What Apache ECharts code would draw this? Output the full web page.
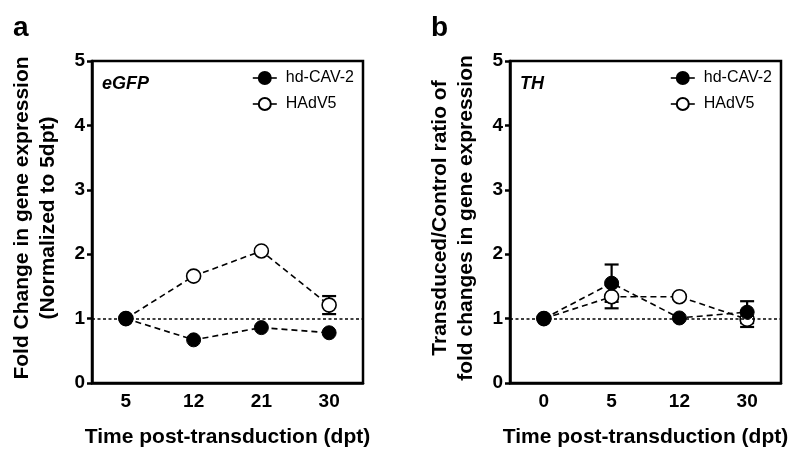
<!DOCTYPE html>
<html><head><meta charset="utf-8">
<script src="https://cdn.jsdelivr.net/npm/echarts@6/dist/echarts.min.js"></script>
<style>html,body{margin:0;padding:0;background:#fff}#c{width:800px;height:459px}</style>
</head><body><div id="c"></div>
<script>
// ---- data ----
const catsA = ['5', '12', '21', '30'];
const cavA = [1.0, 0.67, 0.86, 0.78];
const cavAErr = [0, 0, 0, 0];
const hadA = [1.0, 1.66, 2.05, 1.21];
const hadAErr = [0, 0, 0, 0.14];

const catsB = ['0', '5', '12', '30'];
const cavB = [1.0, 1.55, 1.01, 1.10];
const cavBErr = [0, 0.29, 0, 0.17];
const hadB = [1.0, 1.34, 1.34, 0.99];
const hadBErr = [0, 0.18, 0, 0.12];

const seriesNames = ['hd-CAV-2', 'HAdV5'];
const panelLetters = ['a', 'b'];
const geneLabels = ['eGFP', 'TH'];
const yNames = ['Fold Change in gene expression\n(Normalized to 5dpt)',
                'Transduced/Control ratio of\nfold changes in gene expression'];
const xName = 'Time post-transduction (dpt)';
const refValue = 1;

// ---- chart ----
const FONT = '"Liberation Sans", Arial, sans-serif';
const chart = echarts.init(document.getElementById('c'), null, {renderer: 'canvas'});

function errData(vals, errs) { return vals.map((v, i) => [i, v, errs[i]]); }
function errRender(params, api) {
  const x = api.value(0), v = api.value(1), e = api.value(2);
  if (!e) return null;
  const t = api.coord([x, v + e]);
  const b = api.coord([x, v - e]);
  const w = 7;
  const st = {stroke: '#000', lineWidth: 2.2};
  return {type: 'group', children: [
    {type: 'line', shape: {x1: t[0], y1: t[1], x2: b[0], y2: b[1]}, style: st},
    {type: 'line', shape: {x1: t[0] - w, y1: t[1], x2: t[0] + w, y2: t[1]}, style: st},
    {type: 'line', shape: {x1: b[0] - w, y1: b[1], x2: b[0] + w, y2: b[1]}, style: st}
  ]};
}

const grids = [
  {left: 92, top: 61, width: 271, height: 322},
  {left: 510, top: 61, width: 271, height: 322}
].map(g => Object.assign(g, {show: true, borderColor: '#000', borderWidth: 2.5, backgroundColor: 'transparent'}));

function xAx(i, cats) {
  return {
    type: 'category', gridIndex: i, data: cats, boundaryGap: true,
    axisLine: {show: true, lineStyle: {color: '#000', width: 2.5}},
    axisTick: {show: false},
    axisLabel: {color: '#000', fontSize: 19, fontWeight: 'bold', fontFamily: FONT, margin: 9},
    splitLine: {show: false},
    name: xName, nameLocation: 'middle', nameGap: 44,
    nameTextStyle: {color: '#000', fontSize: 21, fontWeight: 'bold', fontFamily: FONT}
  };
}
function yAx(i, gap) {
  return {
    type: 'value', gridIndex: i, min: 0, max: 5, interval: 1,
    axisLine: {show: true, lineStyle: {color: '#000', width: 2.5}},
    axisTick: {show: true, length: 5, lineStyle: {color: '#000', width: 2.5}},
    axisLabel: {color: '#000', fontSize: 19, fontWeight: 'bold', fontFamily: FONT, margin: 7},
    splitLine: {show: false},
    name: yNames[i], nameLocation: 'middle', nameGap: gap, nameRotate: 90,
    nameTextStyle: {color: '#000', fontSize: 21, fontWeight: 'bold', fontFamily: FONT, lineHeight: 26, align: 'center', padding: [0, 0, 0, 8]}
  };
}

function lineSeries(name, i, vals, filled, withRef) {
  const s = {
    name: name, type: 'line', xAxisIndex: i, yAxisIndex: i, data: vals,
    symbol: 'circle', symbolSize: 14,
    itemStyle: filled ? {color: '#000', borderColor: '#000', borderWidth: 1}
                      : {color: '#fff', borderColor: '#000', borderWidth: 1.6},
    lineStyle: {color: '#000', width: 1.6, type: [6, 4]},
    z: filled ? 4 : 3,
    emphasis: {disabled: true}
  };
  if (withRef) {
    s.markLine = {
      silent: true, symbol: 'none', label: {show: false},
      lineStyle: {color: '#000', width: 1.6, type: [3, 2.5]},
      data: [{yAxis: refValue}]
    };
  }
  return s;
}
function errSeries(i, vals, errs) {
  return {type: 'custom', xAxisIndex: i, yAxisIndex: i, data: errData(vals, errs),
          renderItem: errRender, z: 2, silent: true};
}

function legendAt(left) {
  return {
    left: left, top: 70, orient: 'vertical', padding: 0,
    itemWidth: 24, itemHeight: 15, itemGap: 10,
    data: seriesNames,
    textStyle: {color: '#000', fontSize: 16, fontFamily: FONT, padding: [0, 0, 0, 4]},
    lineStyle: {type: 'solid', width: 1.6, color: '#000'},
    selectedMode: false
  };
}

const option = {
  animation: false,
  backgroundColor: '#fff',
  title: [
    {text: panelLetters[0], left: 8, top: 9, textStyle: {fontSize: 28, fontWeight: 'bold', color: '#000', fontFamily: FONT}},
    {text: panelLetters[1], left: 426, top: 9, textStyle: {fontSize: 28, fontWeight: 'bold', color: '#000', fontFamily: FONT}},
    {text: geneLabels[0], left: 97, top: 70, textStyle: {fontSize: 18, fontWeight: 'bold', fontStyle: 'italic', color: '#000', fontFamily: FONT}},
    {text: geneLabels[1], left: 515, top: 70, textStyle: {fontSize: 18, fontWeight: 'bold', fontStyle: 'italic', color: '#000', fontFamily: FONT}}
  ],
  legend: [legendAt(252), legendAt(670)],
  grid: grids,
  xAxis: [xAx(0, catsA), xAx(1, catsB)],
  yAxis: [yAx(0, 31), yAx(1, 31)],
  series: [
    errSeries(0, hadA, hadAErr),
    errSeries(0, cavA, cavAErr),
    lineSeries(seriesNames[1], 0, hadA, false, true),
    lineSeries(seriesNames[0], 0, cavA, true, false),
    errSeries(1, hadB, hadBErr),
    errSeries(1, cavB, cavBErr),
    lineSeries(seriesNames[1], 1, hadB, false, true),
    lineSeries(seriesNames[0], 1, cavB, true, false)
  ]
};
chart.setOption(option);
</script>
</body></html>
